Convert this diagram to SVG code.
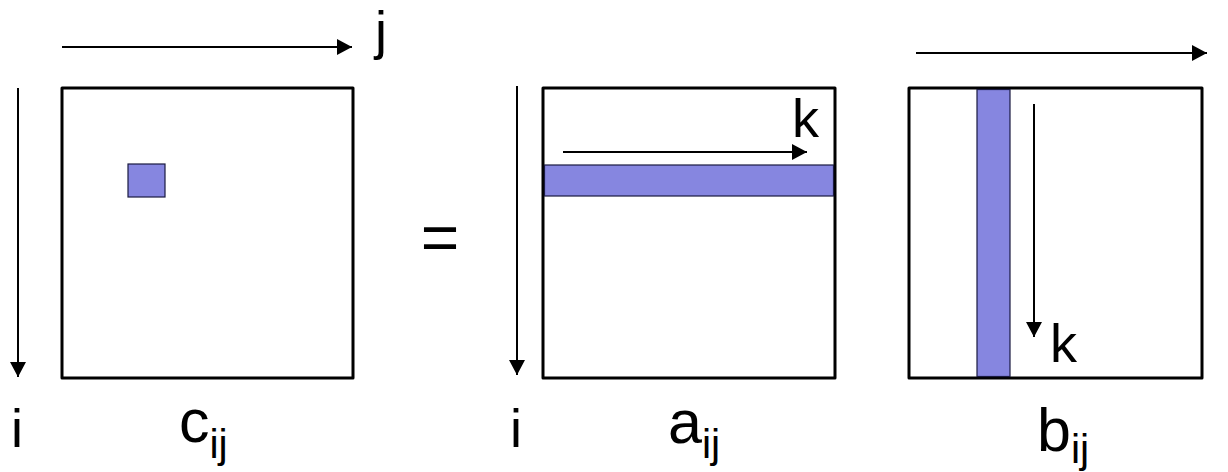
<svg xmlns="http://www.w3.org/2000/svg" width="1228" height="472" viewBox="0 0 1228 472">
<style>
.box{fill:#fff;stroke:#000;stroke-width:3;stroke-linejoin:round}
.hl{fill:#8686E0;stroke:#1a1a40;stroke-width:1.2}
.ar{stroke:#000;stroke-width:2;fill:none;marker-end:url(#ah)}
.lbl{font-family:"Liberation Sans",Arial,sans-serif;fill:#000}
.big{font-size:61px}
.mid{font-size:54px}
.sub{font-size:41px}
</style>
<defs>
<marker id="ah" markerUnits="userSpaceOnUse" markerWidth="15" markerHeight="16" refX="15" refY="8" orient="auto">
<path d="M0,0 L15,8 L0,16 z" fill="#000"/>
</marker>
</defs>
<rect width="1228" height="472" fill="#fff"/>
<g id="matrix-c">
<rect class="box" x="62" y="88" width="291" height="290"/>
<rect class="hl" x="128" y="164" width="37" height="33"/>
<text class="lbl big" x="179" y="442">c<tspan class="sub" dy="16">ij</tspan></text>
</g>
<g id="equals">
<text class="lbl big" x="440" y="260" text-anchor="middle" style="font-size:66px">=</text>
</g>
<g id="matrix-a">
<rect class="box" x="543" y="88" width="292" height="290"/>
<rect class="hl" x="544.5" y="165" width="289" height="31"/>
<text class="lbl big" x="668" y="443">a<tspan class="sub" dy="15">ij</tspan></text>
</g>
<g id="matrix-b">
<rect class="box" x="909" y="88" width="293" height="290"/>
<rect class="hl" x="977" y="89.5" width="33" height="287"/>
<text class="lbl big" x="1037" y="451">b<tspan class="sub" dy="12">ij</tspan></text>
</g>
<g id="labels">
<text class="lbl mid" x="375" y="49">j</text>
<text class="lbl mid" x="17" y="447" text-anchor="middle">i</text>
<text class="lbl mid" x="516" y="447" text-anchor="middle">i</text>
<text class="lbl mid" x="792" y="137">k</text>
<text class="lbl mid" x="1050" y="362">k</text>
</g>
<g id="connectors">
<line class="ar" x1="62" y1="47" x2="352" y2="47"/>
<line class="ar" x1="18" y1="88" x2="18" y2="377"/>
<line class="ar" x1="517" y1="86" x2="517" y2="375"/>
<line class="ar" x1="563" y1="152" x2="807" y2="152"/>
<line class="ar" x1="916" y1="53" x2="1207" y2="53"/>
<line class="ar" x1="1034" y1="104" x2="1034" y2="337"/>
</g>
</svg>
